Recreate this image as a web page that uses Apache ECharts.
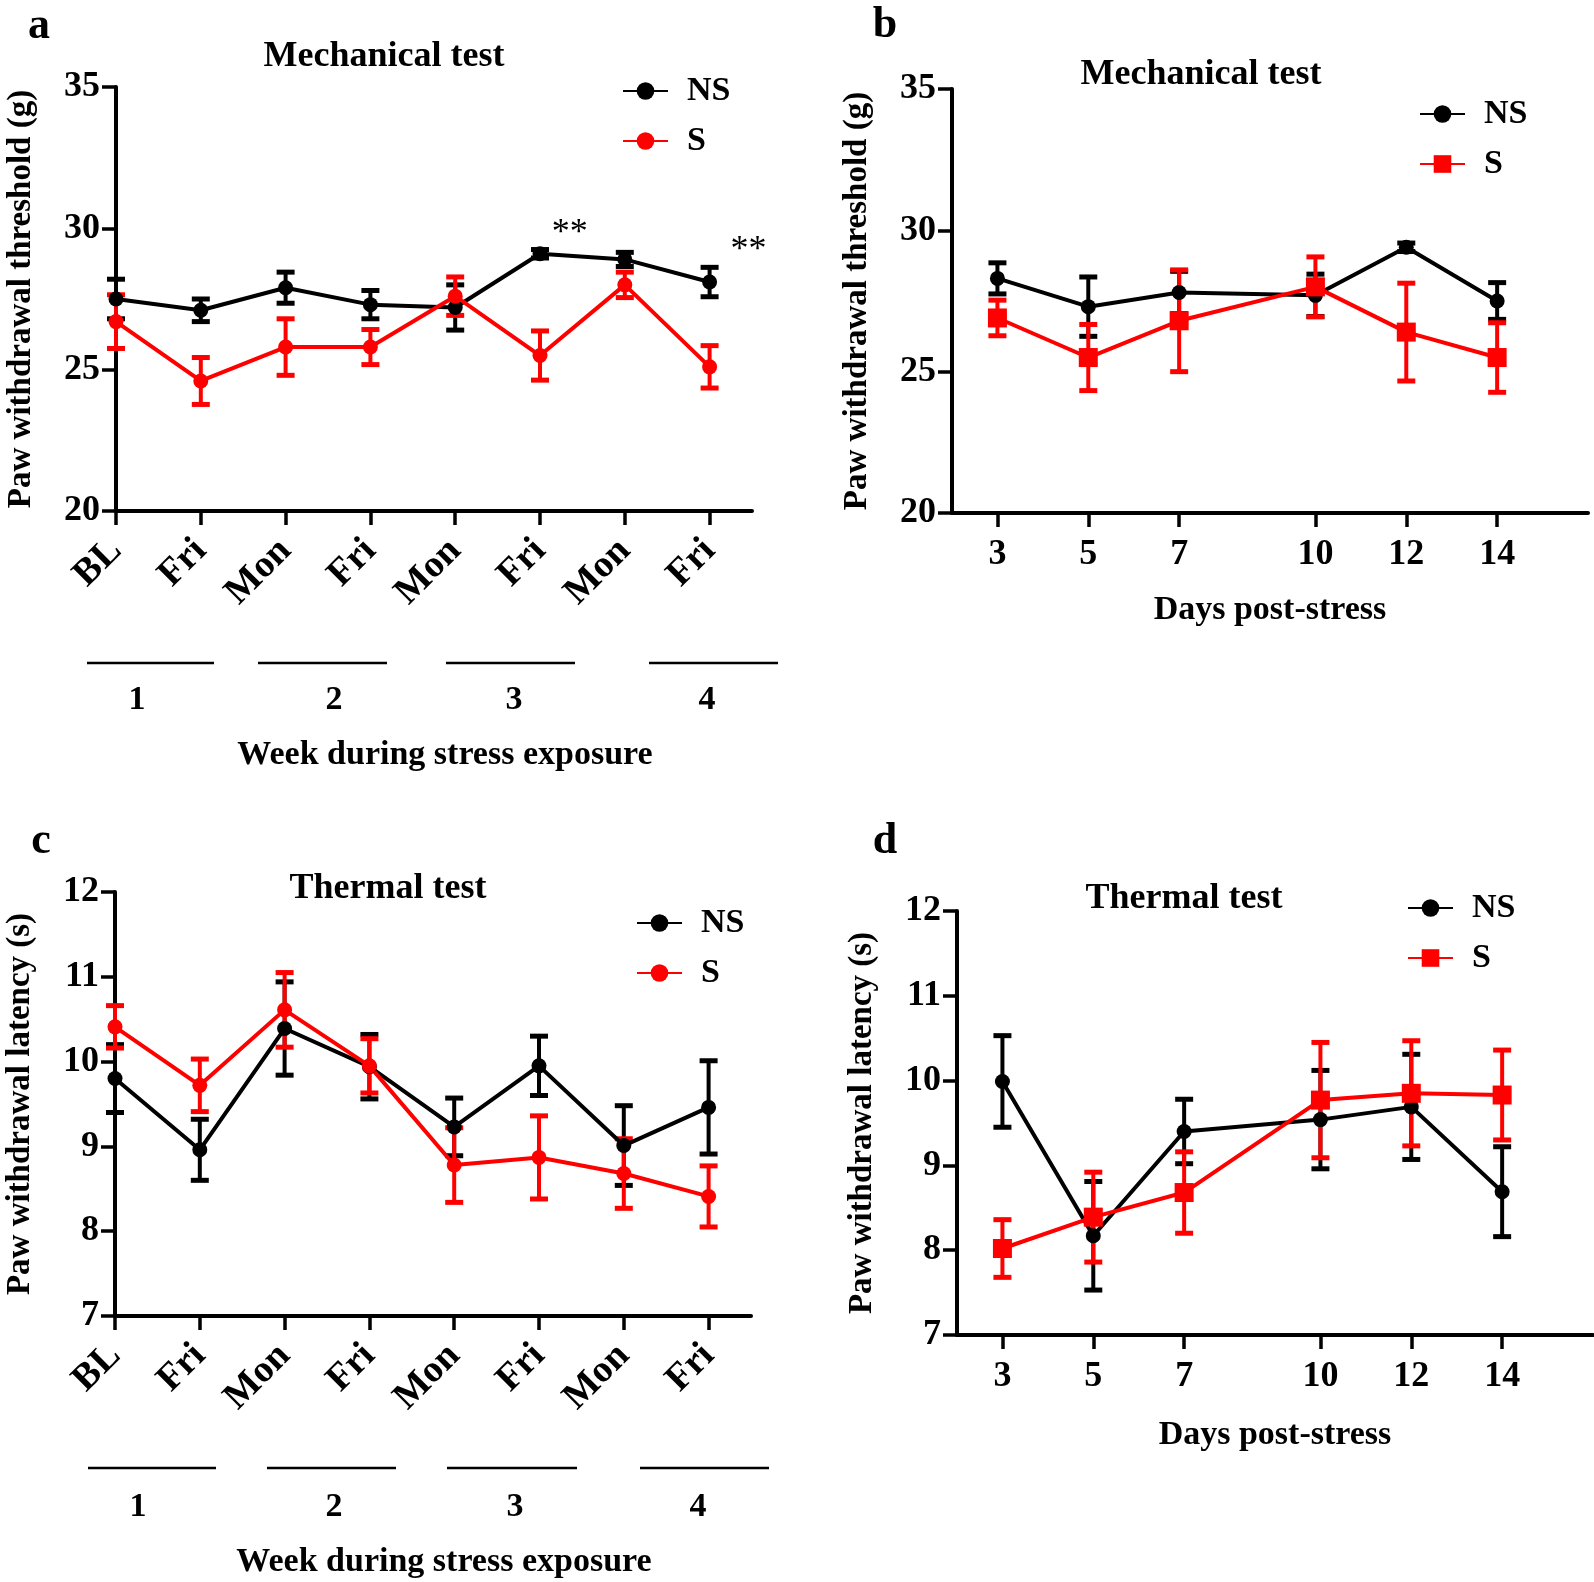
<!DOCTYPE html>
<html><head><meta charset="utf-8">
<script src="https://cdn.jsdelivr.net/npm/echarts@6/dist/echarts.min.js"></script>
<style>html,body{margin:0;padding:0;background:#fff}#c{width:1594px;height:1582px}</style>
</head><body><div id="c"></div>
<script>
// ---------- data ----------
const sessionLabels = ['BL', 'Fri', 'Mon', 'Fri', 'Mon', 'Fri', 'Mon', 'Fri'];
const sessionIndex = [0, 1, 2, 3, 4, 5, 6, 7];
const weekLabels = ['1', '2', '3', '4'];
const postDays = [3, 5, 7, 10, 12, 14];

const mechNS = [27.5, 27.1, 27.9, 27.3, 27.2, 29.1, 28.9, 28.1];
const mechNSErr = [0.7, 0.4, 0.55, 0.5, 0.8, 0.15, 0.25, 0.52];
const mechS = [26.7, 24.6, 25.8, 25.8, 27.6, 25.5, 28.0, 25.1];
const mechSErr = [0.95, 0.83, 1.0, 0.62, 0.68, 0.87, 0.45, 0.75];

const postMechNS = [28.3, 27.3, 27.8, 27.7, 29.4, 27.5];
const postMechNSErr = [0.55, 1.05, 0.75, 0.75, 0.15, 0.65];
const postMechS = [26.9, 25.5, 26.8, 28.0, 26.4, 25.5];
const postMechSErr = [0.63, 1.17, 1.8, 1.06, 1.73, 1.23];

const thermNS = [9.8, 8.96, 10.39, 9.94, 9.23, 9.95, 9.01, 9.46];
const thermNSErr = [0.4, 0.36, 0.55, 0.38, 0.34, 0.35, 0.47, 0.55];
const thermS = [10.41, 9.72, 10.61, 9.95, 8.78, 8.87, 8.68, 8.41];
const thermSErr = [0.25, 0.31, 0.44, 0.32, 0.44, 0.49, 0.41, 0.36];

const postThermNS = [9.99, 8.17, 9.4, 9.54, 9.69, 8.69];
const postThermNSErr = [0.54, 0.64, 0.38, 0.58, 0.62, 0.53];
const postThermS = [8.02, 8.39, 8.68, 9.77, 9.85, 9.83];
const postThermSErr = [0.34, 0.53, 0.48, 0.68, 0.62, 0.53];

// significance marks: [x, y] in data units of panel a
const sigMarks = [[5.35, 29.8], [7.46, 29.23]];

// ---------- styling ----------
const FF = '"Liberation Serif", "Times New Roman", serif';
const BLACK = '#000000';
const RED = '#ff0000';

function errorBarRender(params, api) {
  const x = api.value(0), y = api.value(1), e = api.value(2);
  const hi = api.coord([x, y + e]);
  const lo = api.coord([x, y - e]);
  const hw = 9;
  const color = api.visual('color');
  return {
    type: 'group',
    children: [
      {type: 'line', shape: {x1: hi[0], y1: hi[1], x2: lo[0], y2: lo[1]}, style: {stroke: color, lineWidth: 4}},
      {type: 'line', shape: {x1: hi[0] - hw, y1: hi[1], x2: hi[0] + hw, y2: hi[1]}, style: {stroke: color, lineWidth: 5}},
      {type: 'line', shape: {x1: lo[0] - hw, y1: lo[1], x2: lo[0] + hw, y2: lo[1]}, style: {stroke: color, lineWidth: 5}}
    ]
  };
}

function errSeries(name, xs, ys, errs, color, gi) {
  return {
    type: 'custom', name: name, xAxisIndex: gi, yAxisIndex: gi,
    renderItem: errorBarRender, itemStyle: {color: color},
    encode: {x: 0, y: 1}, silent: true,
    data: xs.map((x, i) => [x, ys[i], errs[i]])
  };
}
function lineSeries(name, xs, ys, color, symbol, size, gi, extra) {
  return Object.assign({
    type: 'line', name: name, xAxisIndex: gi, yAxisIndex: gi,
    symbol: symbol, symbolSize: size, showAllSymbol: true,
    lineStyle: {color: color, width: 4}, itemStyle: {color: color},
    data: xs.map((x, i) => [x, ys[i]]), animation: false
  }, extra || {});
}

const grids = [
  {left: 116, top: 87, width: 636, height: 424},
  {left: 952, top: 89, width: 636, height: 424},
  {left: 115, top: 892, width: 636, height: 424},
  {left: 957, top: 911, width: 636, height: 424}
].map(g => Object.assign({outerBoundsMode: 'none', containLabel: false}, g));

const axisLineStyle = {show: true, onZero: false, lineStyle: {color: BLACK, width: 4}};
const tickStyle = {lineStyle: {color: BLACK, width: 3.5}, length: 14};

function weekXAxis(gi, nameGap) {
  return {
    type: 'value', gridIndex: gi, min: 0, max: 7.5,
    axisLine: axisLineStyle,
    axisTick: Object.assign({customValues: sessionIndex}, tickStyle),
    axisLabel: {customValues: sessionIndex, formatter: v => sessionLabels[v], rotate: 45, margin: 34,
      fontFamily: FF, fontWeight: 'bold', fontSize: 38, color: BLACK},
    splitLine: {show: false},
    name: 'Week during stress exposure', nameLocation: 'middle', nameGap: nameGap,
    nameTextStyle: {fontFamily: FF, fontWeight: 'bold', fontSize: 34, color: BLACK, padding: [0, 0, 0, 22]}
  };
}
function dayXAxis(gi, nameGap) {
  return {
    type: 'value', gridIndex: gi, min: 2, max: 16,
    axisLine: axisLineStyle,
    axisTick: Object.assign({customValues: postDays}, tickStyle),
    axisLabel: {customValues: postDays, margin: 24,
      fontFamily: FF, fontWeight: 'bold', fontSize: 36, color: BLACK},
    splitLine: {show: false},
    name: 'Days post-stress', nameLocation: 'middle', nameGap: nameGap,
    nameTextStyle: {fontFamily: FF, fontWeight: 'bold', fontSize: 34, color: BLACK}
  };
}
function yAxis(gi, min, max, interval, name) {
  return {
    type: 'value', gridIndex: gi, min: min, max: max, interval: interval,
    axisLine: axisLineStyle,
    axisTick: Object.assign({show: true}, tickStyle),
    axisLabel: {margin: 16, fontFamily: FF, fontWeight: 'bold', fontSize: 36, color: BLACK},
    splitLine: {show: false},
    name: name, nameLocation: 'middle', nameGap: 78,
    nameTextStyle: {fontFamily: FF, fontWeight: 'bold', fontSize: 33, color: BLACK}
  };
}

function legend(left, top, suffix) {
  return {
    left: left, top: top, orient: 'vertical', itemWidth: 45, itemHeight: 22, itemGap: 16,
    selectedMode: false, data: ['NS' + suffix, 'S' + suffix],
    formatter: n => n.split('-')[0],
    textStyle: {fontFamily: FF, fontWeight: 'bold', fontSize: 34, color: BLACK, padding: [0, 0, 0, 14]}
  };
}

const titleStyle = {fontFamily: FF, fontWeight: 'bold', fontSize: 36, color: BLACK};
const titles = [
  {text: 'Mechanical test', left: 379, top: 34, textAlign: 'center', textStyle: titleStyle},
  {text: 'Mechanical test', left: 1196, top: 52, textAlign: 'center', textStyle: titleStyle},
  {text: 'Thermal test', left: 383, top: 866, textAlign: 'center', textStyle: titleStyle},
  {text: 'Thermal test', left: 1179, top: 876, textAlign: 'center', textStyle: titleStyle}
];

function txt(text, x, y, size, weight) {
  return {type: 'text', x: x, y: y, silent: true,
    style: {text: text, fill: BLACK, font: (weight || 'bold') + ' ' + size + 'px ' + FF, align: 'center', verticalAlign: 'middle'}};
}
function hline(x1, x2, y) {
  return {type: 'line', silent: true, shape: {x1: x1, y1: y, x2: x2, y2: y}, style: {stroke: BLACK, lineWidth: 2.5}};
}

const weekLinesA = [[87, 214], [258, 387], [446, 575], [649, 778]];
const weekNumXA = [137, 334, 514, 707];
const weekLinesC = [[88, 216], [267, 396], [447, 577], [640, 769]];
const weekNumXC = [138, 334, 515, 698];

const graphics = [
  txt('a', 39, 27, 44), txt('b', 885, 26, 44), txt('c', 41, 842, 44), txt('d', 885, 842, 44)
];
weekLinesA.forEach(l => graphics.push(hline(l[0], l[1], 663)));
weekLinesC.forEach(l => graphics.push(hline(l[0], l[1], 1468)));
weekLabels.forEach((w, i) => { graphics.push(txt(w, weekNumXA[i], 700, 34)); graphics.push(txt(w, weekNumXC[i], 1507, 34)); });

const series = [
  // panel a
  errSeries('NS-a-err', sessionIndex, mechNS, mechNSErr, BLACK, 0),
  lineSeries('NS-a', sessionIndex, mechNS, BLACK, 'circle', 15, 0),
  errSeries('S-a-err', sessionIndex, mechS, mechSErr, RED, 0),
  lineSeries('S-a', sessionIndex, mechS, RED, 'circle', 15, 0, {
    markPoint: {
      symbol: 'circle', symbolSize: 1, itemStyle: {color: 'rgba(0,0,0,0)'}, silent: true,
      label: {show: true, position: 'inside', formatter: '**', fontFamily: FF, fontSize: 36, fontWeight: 'normal', color: BLACK},
      data: sigMarks.map(c => ({coord: c}))
    }
  }),
  // panel b
  errSeries('NS-b-err', postDays, postMechNS, postMechNSErr, BLACK, 1),
  lineSeries('NS-b', postDays, postMechNS, BLACK, 'circle', 15, 1),
  errSeries('S-b-err', postDays, postMechS, postMechSErr, RED, 1),
  lineSeries('S-b', postDays, postMechS, RED, 'rect', 19, 1),
  // panel c
  errSeries('NS-c-err', sessionIndex, thermNS, thermNSErr, BLACK, 2),
  lineSeries('NS-c', sessionIndex, thermNS, BLACK, 'circle', 15, 2),
  errSeries('S-c-err', sessionIndex, thermS, thermSErr, RED, 2),
  lineSeries('S-c', sessionIndex, thermS, RED, 'circle', 15, 2),
  // panel d
  errSeries('NS-d-err', postDays, postThermNS, postThermNSErr, BLACK, 3),
  lineSeries('NS-d', postDays, postThermNS, BLACK, 'circle', 15, 3),
  errSeries('S-d-err', postDays, postThermS, postThermSErr, RED, 3),
  lineSeries('S-d', postDays, postThermS, RED, 'rect', 19, 3)
];

const chart = echarts.init(document.getElementById('c'), null, {renderer: 'canvas'});
chart.setOption({
  backgroundColor: '#ffffff',
  animation: false,
  title: titles,
  legend: [legend(617, 69, '-a'), legend(1414, 92, '-b'), legend(631, 901, '-c'), legend(1402, 886, '-d')],
  grid: grids,
  xAxis: [weekXAxis(0, 227), dayXAxis(1, 80), weekXAxis(2, 229), dayXAxis(3, 83)],
  yAxis: [
    yAxis(0, 20, 35, 5, 'Paw withdrawal threshold (g)'),
    yAxis(1, 20, 35, 5, 'Paw withdrawal threshold (g)'),
    yAxis(2, 7, 12, 1, 'Paw withdrawal latency (s)'),
    yAxis(3, 7, 12, 1, 'Paw withdrawal latency (s)')
  ],
  graphic: graphics,
  series: series
});
</script>
</body></html>
